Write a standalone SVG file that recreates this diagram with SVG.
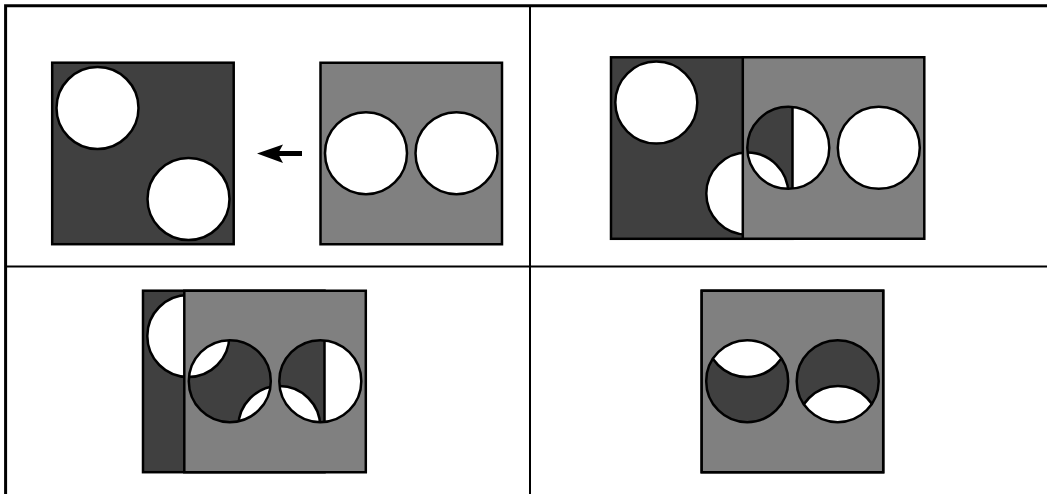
<svg xmlns="http://www.w3.org/2000/svg" width="1047" height="494" viewBox="0 0 1047 494">
  <style>
    .dark { fill: #404040; stroke: #000; stroke-width: 2.5; }
    .hole { fill: #fff; stroke: #000; stroke-width: 2.5; }
    .gray { fill: #808080; fill-rule: evenodd; stroke: #000; stroke-width: 2.5; }
    .grid { fill: none; stroke: #000; }
  </style>
  <defs>
    <g id="darkPlate">
      <rect class="dark" x="0" y="0" width="181.500" height="181.500"/>
      <circle class="hole" cx="45.300" cy="45.300" r="41"/>
      <circle class="hole" cx="136.300" cy="136.300" r="41"/>
    </g>
    <path id="grayPlate" class="gray" d="M0 0H181.500V181.500H0Z M4.500 90.500a41 41 0 1 0 82 0a41 41 0 1 0 -82 0Z M95 90.500a41 41 0 1 0 82 0a41 41 0 1 0 -82 0Z"/>
  </defs>
  <g id="grid">
    <path class="grid" stroke-width="3" d="M5.600 494V5.700H1047"/>
    <path class="grid" stroke-width="2" d="M530 5V494M5 266.500H1047"/>
  </g>
  <g id="panel-1">
    <use href="#darkPlate" x="52.200" y="62.700"/>
    <use href="#grayPlate" x="320.500" y="62.700"/>
    <g id="arrow">
      <path d="M302 151V156H272V151Z" fill="#000"/>
      <path d="M257 153.500L283 144.500L278 153.500L283 163Z" fill="#000"/>
    </g>
  </g>
  <g id="panel-2">
    <use href="#darkPlate" x="611" y="57.300"/>
    <use href="#grayPlate" x="742.800" y="57.300"/>
  </g>
  <g id="panel-3">
    <use href="#darkPlate" x="143" y="290.700"/>
    <use href="#grayPlate" x="184.300" y="290.700"/>
  </g>
  <g id="panel-4">
    <use href="#darkPlate" x="701.700" y="290.700"/>
    <use href="#grayPlate" x="701.700" y="290.700"/>
  </g>
</svg>
